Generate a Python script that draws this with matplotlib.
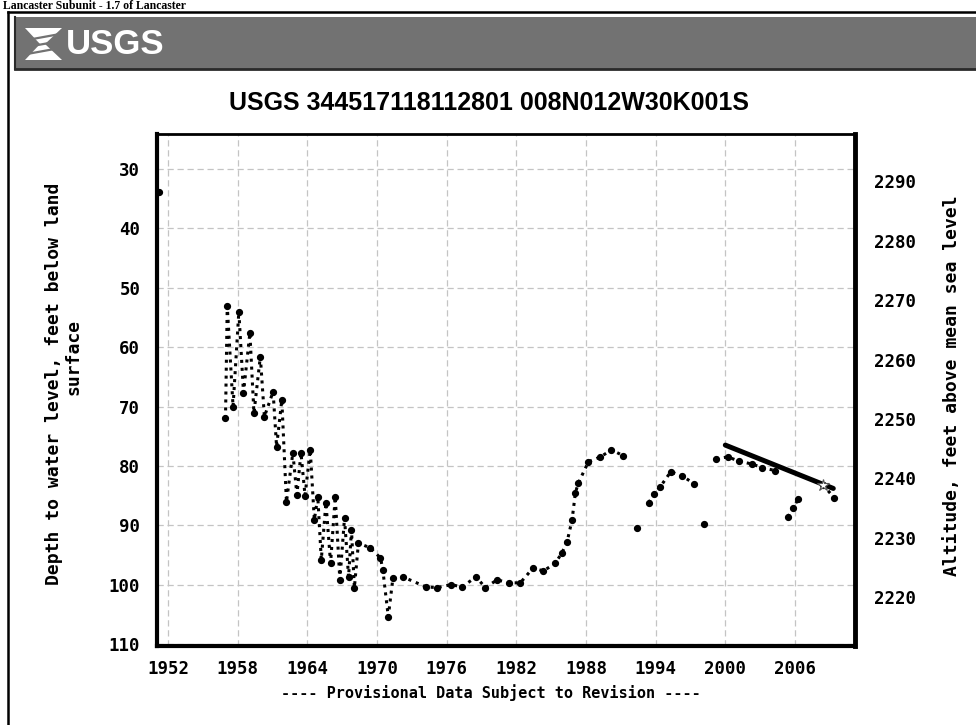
import numpy as np
import matplotlib
matplotlib.use("Agg")
import matplotlib.pyplot as plt
from matplotlib.patches import Rectangle, Polygon
from matplotlib.lines import Line2D

nan = np.nan

# depth to water level, feet below land surface (NaN = gap in record)
years = [1951.25, nan,
         1956.95, 1957.1, 1957.6, 1958.1, 1958.5, 1959.05, 1959.4, 1959.95,
         1960.3, 1961.05, 1961.35, 1961.8, 1962.2, 1962.75, 1963.1, 1963.45,
         1963.8, 1964.25, 1964.6, 1964.9, 1965.2, 1965.6, 1966.0, 1966.4,
         1966.8, 1967.2, 1967.55, 1967.8, 1968.05, 1968.4, 1969.4, 1970.3,
         1970.5, 1970.97, 1971.37, 1972.23, 1974.24, 1975.19, 1976.4, 1977.32,
         1978.53, 1979.33, 1980.34, 1981.4, 1982.34, 1983.44, 1984.33, 1985.36,
         1985.94, 1986.37, 1986.8, 1987.09, 1987.34, 1988.21, 1989.24, 1990.19,
         1991.22, nan,
         1992.4, nan,
         1993.4, 1993.85, 1994.4, 1995.3, 1996.3, 1997.3, nan,
         1998.2, nan,
         1999.2, 2000.2, 2001.2, 2002.3, 2003.2, 2004.3, nan,
         2005.4, 2005.8, 2006.3, nan,
         2008.4, 2009.4]
depth = [33.9, nan,
         72.0, 53.0, 70.0, 54.0, 67.7, 57.6, 71.1, 61.6,
         71.7, 67.5, 76.8, 68.9, 86.1, 77.8, 84.9, 77.8,
         85.0, 77.3, 89.1, 85.2, 95.8, 86.2, 96.4, 85.2,
         99.2, 88.8, 98.7, 90.8, 100.5, 93.0, 93.8, 95.5,
         97.5, 105.4, 98.9, 98.7, 100.4, 100.5, 100.0, 100.4,
         98.7, 100.5, 99.2, 99.7, 99.7, 97.2, 97.7, 96.4,
         94.6, 92.8, 89.1, 84.5, 82.9, 79.3, 78.5, 77.3,
         78.3, nan,
         90.4, nan,
         86.2, 84.8, 83.5, 81.0, 81.7, 83.0, nan,
         89.8, nan,
         78.8, 78.5, 79.2, 79.7, 80.3, 80.8, nan,
         88.6, 87.1, 85.6, nan,
         83.2, 85.4]

trend_years = [2000.0, 2009.3]
trend_depth = [76.5, 83.8]
last_year, last_depth = 2008.4, 83.2

land_surface = 2322.1
x_ticks = [1952, 1958, 1964, 1970, 1976, 1982, 1988, 1994, 2000, 2006]
depth_ticks = [30, 40, 50, 60, 70, 80, 90, 100, 110]
alt_ticks = [2220, 2230, 2240, 2250, 2260, 2270, 2280, 2290]

title = "USGS 344517118112801 008N012W30K001S"
mono = ["DejaVu Sans Mono"]
sans = ["Liberation Sans", "DejaVu Sans"]

fig = plt.figure(figsize=(9.76, 7.25), dpi=100)
W, H = 976, 725


def fx(px):
    return px / W


def fy(py):
    return 1 - py / H


# page header of the scanned sheet
fig.text(fx(3), fy(6), "Lancaster Subunit - 1.7 of Lancaster", family=["Liberation Serif", "DejaVu Serif"],
         fontsize=8.5, fontweight="bold", ha="left", va="center")
fig.add_artist(Line2D([fx(8), 1], [fy(12), fy(12)], color="black", lw=1.8))
fig.add_artist(Line2D([fx(8), fx(8)], [fy(12), 0], color="black", lw=1.8))

# gray USGS banner
fig.add_artist(Rectangle((fx(15), fy(69)), 1 - fx(15), fy(17) - fy(69), facecolor="#727272",
                         edgecolor="none"))
fig.add_artist(Line2D([fx(15), 1], [fy(69), fy(69)], color="#2a2a2a", lw=2))
fig.add_artist(Line2D([fx(15), fx(15)], [fy(17), fy(69)], color="#2a2a2a", lw=1.5))
# logo mark
fig.add_artist(Polygon([[fx(25), fy(28)], [fx(62), fy(28)], [fx(45), fy(44)], [fx(62), fy(60)],
                        [fx(25), fy(60)], [fx(40), fy(44)]], closed=True, facecolor="white",
                       edgecolor="none"))
for yy in [37, 44, 51]:
    fig.add_artist(Line2D([fx(27), fx(60)], [fy(yy + 3), fy(yy - 3)], color="#727272", lw=1.6))
fig.text(fx(66), fy(45), "USGS", family=sans, fontsize=25, fontweight="bold", color="white",
         ha="left", va="center")

fig.text(fx(489), fy(103), title, family=sans, fontsize=18, fontweight="bold",
         ha="center", va="center")

ax = fig.add_axes([fx(157), fy(646), fx(855) - fx(157), fy(134) - fy(646)])
ax.set_xlim(1951.05, 2011.17)
ax.set_ylim(110.34, 24.1)

ax.plot(years, depth, color="black", lw=2.2, linestyle=(0, (1, 1.6)),
        marker="o", markersize=4.2, zorder=3)
ax.plot(trend_years, trend_depth, color="black", lw=3.6, solid_capstyle="round", zorder=4)
ax.plot([last_year], [last_depth], marker="*", markersize=9, markerfacecolor="white",
        markeredgecolor="#555555", markeredgewidth=0.8, zorder=5)

ax.set_xticks(x_ticks)
ax.set_yticks(depth_ticks)
ax.grid(True, color="#c4c4c4", lw=0.9, linestyle=(0, (5, 3)))
ax.set_axisbelow(True)
ax.tick_params(length=0)
ax.tick_params(axis="x", pad=10)
ax.tick_params(axis="y", pad=12)
for lab in ax.get_xticklabels() + ax.get_yticklabels():
    lab.set_family(mono)
    lab.set_fontweight("bold")
    lab.set_fontsize(12.5)
for side, lw in [("left", 3), ("bottom", 3), ("top", 2), ("right", 3.5)]:
    ax.spines[side].set_linewidth(lw)

ax2 = ax.twinx()
ax2.set_ylim(land_surface - 110.34, land_surface - 24.1)
ax2.set_yticks(alt_ticks)
ax2.tick_params(length=0, pad=14)
for lab in ax2.get_yticklabels():
    lab.set_family(mono)
    lab.set_fontweight("bold")
    lab.set_fontsize(12.5)
for s in ax2.spines.values():
    s.set_visible(False)

fig.text(fx(54), fy(384), "Depth to water level, feet below land", family=mono, fontsize=13,
         fontweight="bold", rotation=90, ha="center", va="center")
fig.text(fx(74), fy(357), "surface", family=mono, fontsize=13,
         fontweight="bold", rotation=90, ha="center", va="center")
fig.text(fx(952), fy(386), "Altitude, feet above mean sea level", family=mono, fontsize=13,
         fontweight="bold", rotation=90, ha="center", va="center")
fig.text(fx(491), fy(693), "---- Provisional Data Subject to Revision ----", family=mono,
         fontsize=10.9, fontweight="bold", ha="center", va="center")

fig.savefig("out.png", dpi=100)
